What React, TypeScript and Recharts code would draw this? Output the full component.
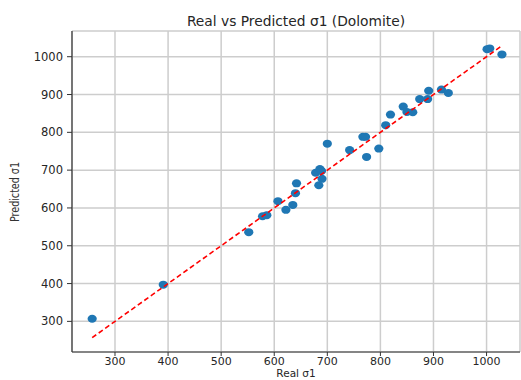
import { ScatterChart, Scatter, XAxis, YAxis, CartesianGrid } from "recharts";

// Real vs predicted sigma1 values
const realVals = [
  257, 391, 552, 578, 586, 607, 622, 635, 640, 642, 678, 686, 689, 690, 684, 700, 742,
  767, 772, 774, 797, 810, 819, 843, 850, 861, 874, 889, 891, 915, 928, 1001, 1006, 1029,
];
const predVals = [
  307, 397, 536, 578, 581, 618, 595, 608, 639, 665, 693, 703, 698, 677, 660, 770, 753,
  788, 788, 735, 757, 819, 847, 868, 854, 853, 888, 888, 910, 913, 904, 1020, 1022, 1006,
];
// ideal line y = x, from min to max of real values
const idealEnds = [257, 1029];
const xTicks = [300, 400, 500, 600, 700, 800, 900, 1000];
const yTicks = [300, 400, 500, 600, 700, 800, 900, 1000];

const points = realVals.map((r, i) => ({ real: r, pred: predVals[i] }));
const ideal = idealEnds.map((v) => ({ real: v, pred: v }));

const font = "'DejaVu Sans', 'Liberation Sans', sans-serif";
const tickStyle = { fontSize: 11.5, fill: "#262626", fontFamily: font };
const xTickStyle = { fontSize: 11, fill: "#262626", fontFamily: font };

const Dot = (props: any) => {
  const { cx, cy } = props;
  if (cx == null || cy == null) return null;
  return <ellipse cx={cx} cy={cy} rx={4.6} ry={4} fill="#1f77b4" />;
};

export default function App() {
  return (
    <div style={{ position: "absolute", left: 0, top: 0, width: 521, height: 380, background: "#fff" }}>
      <ScatterChart width={521} height={380} margin={{ top: 31, right: 1, bottom: 0, left: 0 }}>
        <text x={296} y={26} textAnchor="middle" fontSize={13.8} fill="#262626" fontFamily={font}>
          Real vs Predicted σ1 (Dolomite)
        </text>
        <text
          x={0}
          y={0}
          transform="translate(19, 192) rotate(-90)"
          textAnchor="middle"
          fontSize={12}
          fill="#333"
          textLength={60}
          lengthAdjust="spacingAndGlyphs"
          fontFamily="'DejaVu Sans Condensed', 'Liberation Sans Narrow', sans-serif"
        >
          Predicted σ1
        </text>
        <text x={296} y={377} textAnchor="middle" fontSize={10.5} fill="#262626" fontFamily={font}>
          Real σ1
        </text>
        <CartesianGrid stroke="#cdcdcd" strokeWidth={1.5} horizontal vertical />
        <XAxis
          type="number"
          dataKey="real"
          domain={[219, 1063]}
          allowDataOverflow
          ticks={xTicks}
          height={28}
          tick={xTickStyle}
          tickSize={4}
          tickMargin={1}
          stroke="#333"
          axisLine={{ stroke: "#333", strokeWidth: 1.2 }}
          tickLine={{ stroke: "#333" }}
        />
        <XAxis
          xAxisId="top"
          orientation="top"
          type="number"
          dataKey="real"
          domain={[219, 1063]}
          allowDataOverflow
          height={0}
          tick={false}
          tickLine={false}
          axisLine={{ stroke: "#333", strokeWidth: 1.2 }}
        />
        <YAxis
          type="number"
          dataKey="pred"
          domain={[219, 1068]}
          allowDataOverflow
          ticks={yTicks}
          width={72}
          tick={tickStyle}
          tickSize={5}
          tickMargin={4}
          axisLine={{ stroke: "#333", strokeWidth: 1.2 }}
          tickLine={{ stroke: "#333" }}
        />
        <Scatter data={points} shape={<Dot />} isAnimationActive={false} />
        <Scatter
          data={ideal}
          shape={() => null}
          line={{ stroke: "#ff0000", strokeWidth: 1.6, strokeDasharray: "5 3" }}
          isAnimationActive={false}
        />
      </ScatterChart>
    </div>
  );
}
